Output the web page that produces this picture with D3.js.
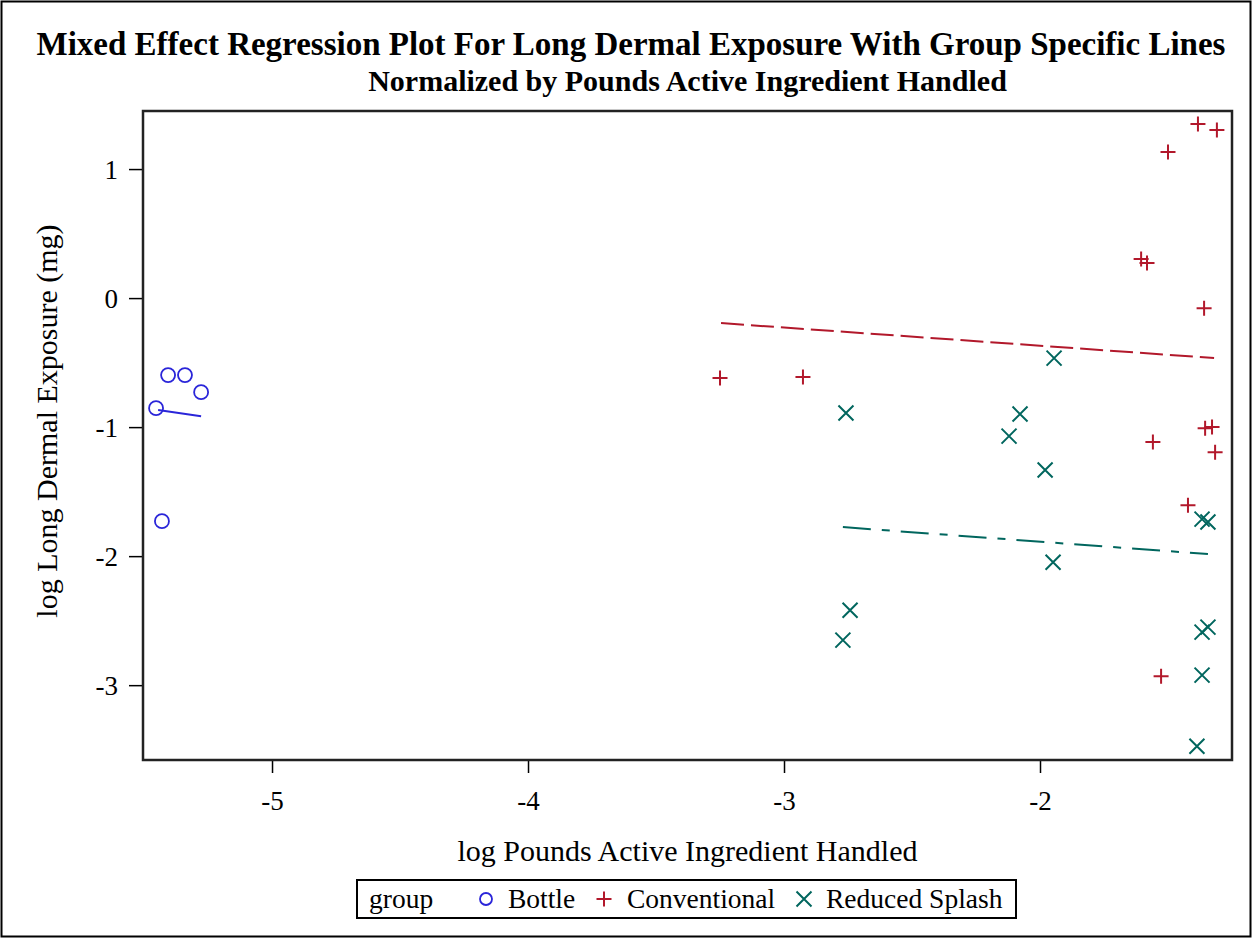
<!DOCTYPE html>
<html>
<head>
<meta charset="utf-8">
<script src="https://cdn.jsdelivr.net/npm/d3@7"></script>
<style>
  body { margin: 0; background: #fff; }
  svg text { font-family: "Liberation Serif", "Times New Roman", serif; fill: #000; }
</style>
</head>
<body>
<svg id="chart" width="1254" height="939"></svg>
<script>
// point data
const bottleX = [-5.453, -5.406, -5.340, -5.277, -5.430];
const bottleY = [-0.853, -0.597, -0.597, -0.729, -1.729];

const convX = [-3.250, -2.926, -1.605, -1.582, -1.500, -1.383, -1.309, -1.359, -1.559, -1.355, -1.328, -1.316, -1.422, -1.527];
const convY = [-0.620, -0.612, 0.302, 0.271, 1.132, 1.349, 1.302, -0.078, -1.116, -1.008, -1.000, -1.194, -1.605, -2.930];

const splashX = [-2.758, -2.742, -2.770, -1.945, -2.078, -2.121, -1.980, -1.949, -1.367, -1.344, -1.367, -1.344, -1.367, -1.387];
const splashY = [-0.891, -2.419, -2.651, -0.465, -0.899, -1.070, -1.333, -2.047, -1.713, -1.736, -2.589, -2.550, -2.922, -3.473];

// group specific regression lines (end points)
const bottleLineX = [-5.445, -5.277];
const bottleLineY = [-0.868, -0.915];
const convLineX = [-3.246, -1.320];
const convLineY = [-0.194, -0.465];
const splashLineX = [-2.770, -1.344];
const splashLineY = [-1.775, -1.984];

const xTicks = [-5, -4, -3, -2];
const yTicks = [1, 0, -1, -2, -3];
const groupNames = ['Bottle', 'Conventional', 'Reduced Splash'];

const colBlue = '#2A25D9', colRed = '#B2182B', colGreen = '#01665E';

const svg = d3.select('#chart');
const plotL = 143, plotR = 1232, plotT = 111, plotB = 760;

const x = d3.scaleLinear().domain([-5.504, -1.25]).range([plotL, plotR]);
const y = d3.scaleLinear().domain([-3.58, 1.45]).range([plotB, plotT]);

// outer border
svg.append('rect')
  .attr('x', 1.5).attr('y', 1.5).attr('width', 1249).attr('height', 935)
  .attr('fill', 'none').attr('stroke', '#000').attr('stroke-width', 2);

// titles
svg.append('text')
  .attr('x', 631).attr('y', 55)
  .attr('text-anchor', 'middle')
  .style('font-weight', 'bold').style('font-size', '33px')
  .text('Mixed Effect Regression Plot For Long Dermal Exposure With Group Specific Lines');
svg.append('text')
  .attr('x', (plotL + plotR) / 2).attr('y', 91)
  .attr('text-anchor', 'middle')
  .style('font-weight', 'bold').style('font-size', '30px')
  .text('Normalized by Pounds Active Ingredient Handled');

// axes
const xAxis = svg.append('g')
  .attr('transform', `translate(0,${plotB})`)
  .call(d3.axisBottom(x).tickValues(xTicks).tickSize(13).tickPadding(18).tickFormat(d => String(d)));
const yAxis = svg.append('g')
  .attr('transform', `translate(${plotL},0)`)
  .call(d3.axisLeft(y).tickValues(yTicks).tickSize(14).tickPadding(11).tickFormat(d => String(d)));

[xAxis, yAxis].forEach(a => {
  a.select('.domain').remove();
  a.selectAll('line').attr('stroke', '#000').attr('stroke-width', 1.5);
  a.selectAll('text')
    .style('font-family', '"Liberation Serif", serif')
    .style('font-size', '27px').attr('fill', '#000');
});
yAxis.selectAll('text').attr('dy', '0.35em');

// frame
svg.append('rect')
  .attr('x', plotL).attr('y', plotT).attr('width', plotR - plotL).attr('height', plotB - plotT)
  .attr('fill', 'none').attr('stroke', '#222').attr('stroke-width', 2.5);

// axis titles
svg.append('text')
  .attr('x', (plotL + plotR) / 2).attr('y', 861)
  .attr('text-anchor', 'middle').style('font-size', '30px')
  .text('log Pounds Active Ingredient Handled');
svg.append('text')
  .attr('transform', 'translate(57,421) rotate(-90)')
  .attr('text-anchor', 'middle').style('font-size', '30px')
  .text('log Long Dermal Exposure (mg)');

// regression lines
const line = d3.line().x(d => x(d[0])).y(d => y(d[1]));
const lines = [
  { xs: bottleLineX, ys: bottleLineY, color: colBlue, dash: null },
  { xs: convLineX, ys: convLineY, color: colRed, dash: '23,7' },
  { xs: splashLineX, ys: splashLineY, color: colGreen, dash: '28,11,8,11' }
];
lines.forEach(l => {
  svg.append('path')
    .attr('d', line(d3.zip(l.xs, l.ys)))
    .attr('fill', 'none')
    .attr('stroke', l.color)
    .attr('stroke-width', 2)
    .attr('stroke-dasharray', l.dash);
});

// markers
const plusPath = 'M-7.5,0H7.5M0,-7.5V7.5';
const crossPath = 'M-7.5,-7.5L7.5,7.5M-7.5,7.5L7.5,-7.5';

svg.append('g').selectAll('circle')
  .data(d3.zip(bottleX, bottleY))
  .enter().append('circle')
  .attr('cx', d => x(d[0])).attr('cy', d => y(d[1]))
  .attr('r', 7)
  .attr('fill', 'none').attr('stroke', colBlue).attr('stroke-width', 1.8);

svg.append('g').selectAll('path')
  .data(d3.zip(convX, convY))
  .enter().append('path')
  .attr('d', plusPath)
  .attr('transform', d => `translate(${x(d[0])},${y(d[1])})`)
  .attr('stroke', colRed).attr('stroke-width', 2).attr('fill', 'none');

svg.append('g').selectAll('path')
  .data(d3.zip(splashX, splashY))
  .enter().append('path')
  .attr('d', crossPath)
  .attr('transform', d => `translate(${x(d[0])},${y(d[1])})`)
  .attr('stroke', colGreen).attr('stroke-width', 2).attr('fill', 'none');

// legend
const lg = svg.append('g');
lg.append('rect')
  .attr('x', 357).attr('y', 880).attr('width', 659).attr('height', 38)
  .attr('fill', '#fff').attr('stroke', '#000').attr('stroke-width', 2);
lg.append('text').attr('x', 369).attr('y', 908).style('font-size', '27.5px').text('group');

const legendItems = [
  { name: groupNames[0], color: colBlue, mx: 486, tx: 508, kind: 'circle' },
  { name: groupNames[1], color: colRed, mx: 604, tx: 627, kind: 'plus' },
  { name: groupNames[2], color: colGreen, mx: 804, tx: 826, kind: 'cross' }
];
legendItems.forEach(it => {
  if (it.kind === 'circle') {
    lg.append('circle').attr('cx', it.mx).attr('cy', 899).attr('r', 6)
      .attr('fill', 'none').attr('stroke', it.color).attr('stroke-width', 1.8);
  } else {
    lg.append('path').attr('d', it.kind === 'plus' ? plusPath : crossPath)
      .attr('transform', `translate(${it.mx},899)`)
      .attr('stroke', it.color).attr('stroke-width', 2).attr('fill', 'none');
  }
  lg.append('text').attr('x', it.tx).attr('y', 908).style('font-size', '27.5px').text(it.name);
});
</script>
</body>
</html>
